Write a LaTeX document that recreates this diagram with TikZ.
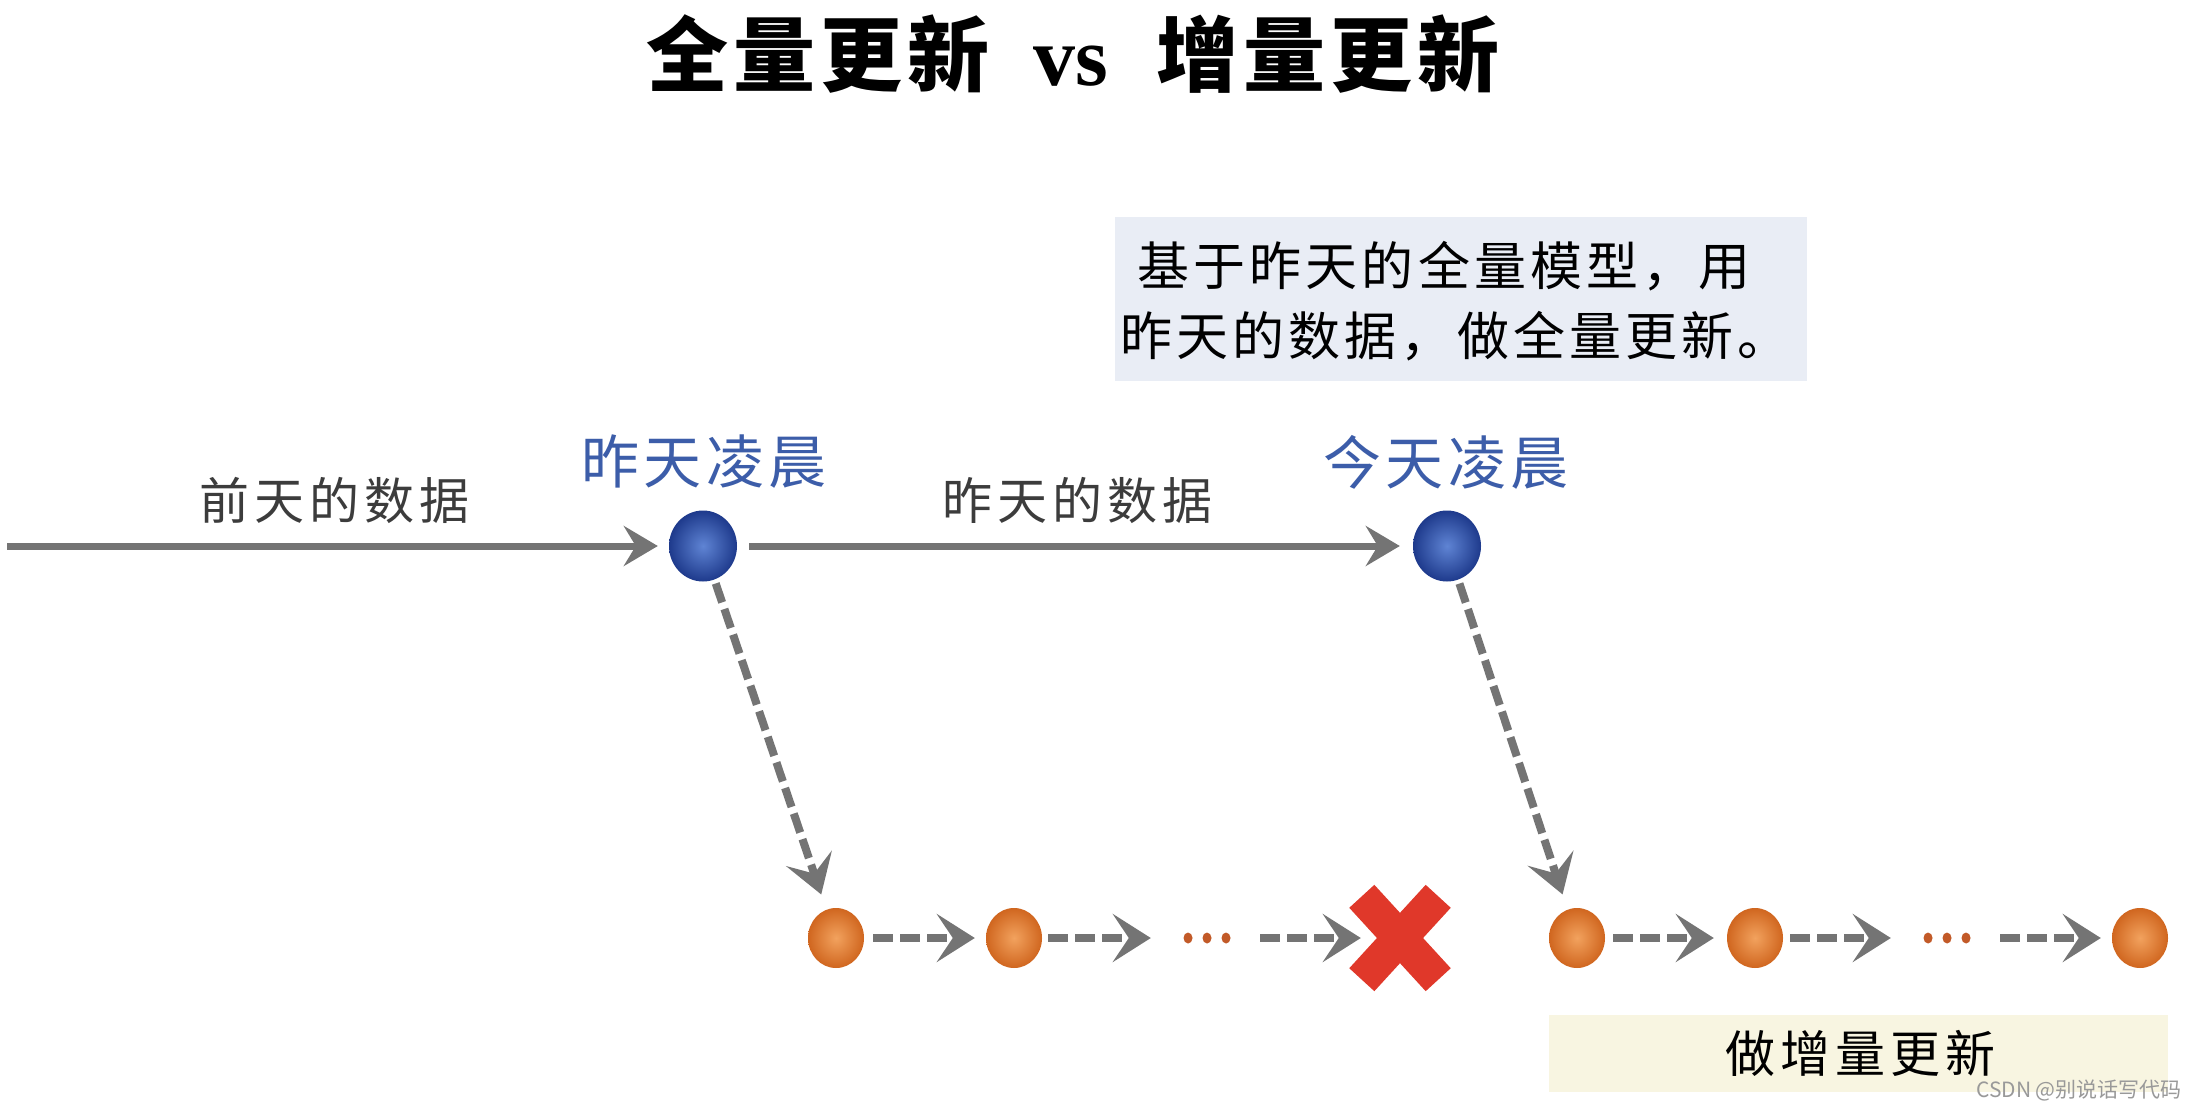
\documentclass[tikz,border=0pt]{standalone}
\usepackage{fontspec}
\usetikzlibrary{arrows.meta,shapes.geometric}
\newfontfamily\cjk{Noto Sans CJK SC}
\newfontfamily\serifb{Liberation Serif}
\definecolor{arrgray}{HTML}{747474}
\definecolor{labgray}{HTML}{3C3C3C}
\definecolor{labblue}{HTML}{3C5DA9}
\definecolor{topbox}{HTML}{E9EDF5}
\definecolor{botbox}{HTML}{F8F5E1}
\definecolor{xred}{HTML}{E0382A}
\definecolor{dotcol}{HTML}{C25A28}
\definecolor{bin}{HTML}{5F84D4}
\definecolor{bout}{HTML}{1E3A8C}
\definecolor{oin}{HTML}{F2A25E}
\definecolor{oout}{HTML}{D0661F}
\tikzset{
  bball/.style={ellipse, minimum width=68pt, minimum height=71pt, inner sep=0pt,
    shading=radial, inner color=bin, outer color=bout},
  oball/.style={ellipse, minimum width=56pt, minimum height=60pt, inner sep=0pt,
    shading=radial, inner color=oin, outer color=oout},
  dotsnode/.style={minimum width=50pt, minimum height=12pt, inner sep=0pt},
  solidarr/.style={draw=arrgray, line width=7pt, -{Stealth[length=34pt, width=40pt, inset=12pt]}},
  dasharr/.style={draw=arrgray, line width=8pt, dash pattern=on 20pt off 7pt,
    -{Stealth[length=38pt, width=48pt, inset=16pt]}},
  lab/.style={inner sep=0pt, text=labgray, font={\cjk\fontsize{50}{60}\selectfont\addfontfeature{LetterSpace=10}}},
  blab/.style={inner sep=0pt, text=labblue, font={\cjk\fontsize{58}{68}\selectfont\addfontfeature{LetterSpace=8}}},
  xcross/.style={draw=xred, line width=34pt, line cap=butt},
}
\begin{document}
\begin{tikzpicture}[x=1pt,y=-1pt]
\useasboundingbox (0,0) rectangle (2196,1108);
\fill[white] (0,0) rectangle (2196,1108);

% title
\node[inner sep=0pt] (title) at (1073,54) {{\cjk\bfseries\fontsize{82}{96}\selectfont\addfontfeature{LetterSpace=6}全量更新}\hspace{44pt}{\serifb\bfseries\fontsize{84}{96}\selectfont vs}\hspace{48pt}{\cjk\bfseries\fontsize{82}{96}\selectfont\addfontfeature{LetterSpace=6}增量更新}};

% top explanation box
\node[fill=topbox, minimum width=692pt, minimum height=164pt, inner sep=0pt] (tbox) at (1461,299) {};
\node[inner sep=0pt, anchor=west, align=left, text=black,
  font={\cjk\fontsize{52}{70}\selectfont\addfontfeature{LetterSpace=8}}] (ttext) at (1120,301)
  {\hspace{17pt}基于昨天的全量模型，用\\昨天的数据，做全量更新。};

% labels
\node[lab] (l1) at (334,500) {前天的数据};
\node[lab] (l2) at (1077,500) {昨天的数据};
\node[blab] (b1) at (704,462) {昨天凌晨};
\node[blab] (b2) at (1446,462) {今天凌晨};

% blue balls
\node[bball] (y) at (703,546) {};
\node[bball] (t) at (1447,546) {};
\coordinate (start) at (7,546);

% orange balls and dots
\node[oball] (o1) at (836,938) {};
\node[oball] (o2) at (1014,938) {};
\node[dotsnode] (d1) at (1207,938) {};
\node[minimum width=100pt, minimum height=107pt, inner sep=0pt] (x) at (1400,938) {};
\node[oball] (o3) at (1577,938) {};
\node[oball] (o4) at (1755,938) {};
\node[dotsnode] (d2) at (1947,938) {};
\node[oball] (o5) at (2140,938) {};
\foreach \n in {d1,d2}{
  \foreach \dx in {-19,0,19}{
    \fill[dotcol] ([xshift=\dx pt]\n.center) ellipse (4.5pt and 5.5pt);
  }
}

% red cross
\draw[xcross] ([shift={(12,12)}]x.north west) -- ([shift={(-12,-12)}]x.south east);
\draw[xcross] ([shift={(-12,12)}]x.north east) -- ([shift={(12,-12)}]x.south west);

% solid arrows
\draw[solidarr, shorten >=11pt] (start) -- (y.west);
\draw[solidarr, shorten <=12pt, shorten >=13pt] (y.east) -- (t.west);

% dashed diagonals
\draw[dasharr, shorten <=4pt, shorten >=16pt] (y) -- (o1);
\draw[dasharr, shorten <=4pt, shorten >=16pt] (t) -- (o3);

% dashed row arrows
\draw[dasharr, shorten <=9pt, shorten >=11pt] (o1.east) -- (o2.west);
\draw[dasharr, shorten <=6pt, shorten >=31pt] (o2.east) -- (d1.west);
\draw[dasharr, shorten <=28pt, shorten >=-11pt] (d1.east) -- (x.west);
\draw[dasharr, shorten <=8pt, shorten >=13pt] (o3.east) -- (o4.west);
\draw[dasharr, shorten <=7pt, shorten >=31pt] (o4.east) -- (d2.west);
\draw[dasharr, shorten <=28pt, shorten >=11pt] (d2.east) -- (o5.west);

% bottom box
\node[fill=botbox, minimum width=619pt, minimum height=77pt, inner sep=0pt] (bbox) at (1858,1053) {};
\node[inner sep=0pt, text=black, font={\cjk\fontsize{50}{60}\selectfont\addfontfeature{LetterSpace=10}}] (btext) at (1860,1053) {做增量更新};

% watermark
\node[inner sep=0pt, anchor=east, text=gray!80, font={\cjk\fontsize{21}{24}\selectfont}] (wm) at (2182,1090) {CSDN @别说话写代码};
\end{tikzpicture}
\end{document}
